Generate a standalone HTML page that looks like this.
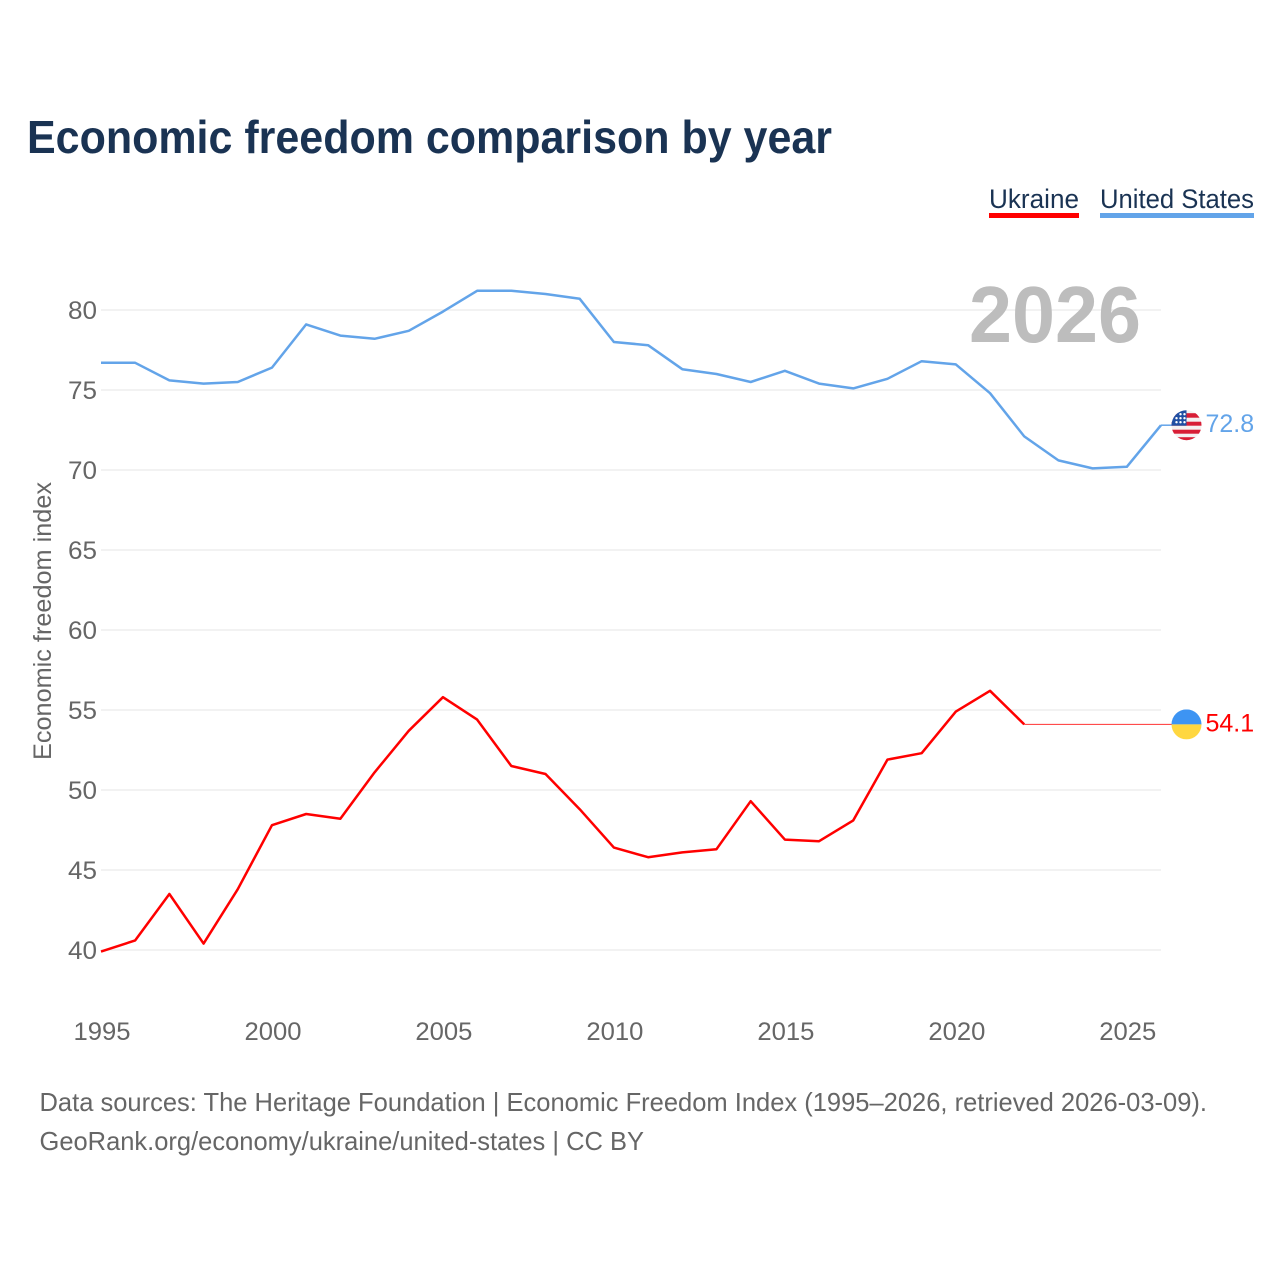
<!DOCTYPE html>
<html lang="en">
<head>
<meta charset="utf-8">
<title>Economic freedom comparison by year</title>
<style>
html,body{margin:0;padding:0;background:#fff}
svg{display:block}
text{font-family:"Liberation Sans",sans-serif}
.tick{font-size:25px;fill:#666}
</style>
</head>
<body>
<svg id="chart" width="1280" height="1280" viewBox="0 0 1280 1280" xmlns="http://www.w3.org/2000/svg">
  <defs>
    <clipPath id="us-clip"><circle cx="0" cy="0" r="15"></circle></clipPath>
    <clipPath id="ua-clip"><circle cx="0" cy="0" r="15"></circle></clipPath>
  </defs>
  <rect width="1280" height="1280" fill="#fff"></rect>
  <text x="27" y="153" font-size="46" font-weight="700" fill="#1a3353" textLength="805" lengthAdjust="spacingAndGlyphs">Economic freedom comparison by year</text>

  <g>
    <text x="989" y="208" font-size="27" fill="#1a3353" textLength="90" lengthAdjust="spacingAndGlyphs">Ukraine</text>
    <rect x="989" y="213" width="90" height="5" fill="#ff0000"></rect>
  </g>
  <g>
    <text x="1100" y="208" font-size="27" fill="#1a3353" textLength="154" lengthAdjust="spacingAndGlyphs">United States</text>
    <rect x="1100" y="213" width="154" height="5" fill="#63a4e9"></rect>
  </g>

  <g id="grid"></g>
  <text x="969" y="342" font-size="80" font-weight="700" fill="#bdbdbd" textLength="172" lengthAdjust="spacingAndGlyphs">2026</text>
  <g id="y-ticks"></g>
  <g id="x-ticks"></g>
  <text transform="translate(51,621) rotate(-90)" text-anchor="middle" font-size="25" fill="#666" textLength="278" lengthAdjust="spacingAndGlyphs">Economic freedom index</text>
  <g id="series"></g>

  <g id="us-end">
    <g clip-path="url(#us-clip)">
      <rect x="-15" y="-15" width="30" height="15" fill="#f4f1f1"></rect>
      <rect x="-15" y="0" width="30" height="15" fill="#f4f1f1"></rect>
      <rect x="-15" y="-12" width="30" height="4.5" fill="#d81e36"></rect>
      <rect x="-15" y="-3.5" width="30" height="4" fill="#d81e36"></rect>
      <rect x="-15" y="4.5" width="30" height="4" fill="#d81e36"></rect>
      <rect x="-15" y="12" width="30" height="4" fill="#d81e36"></rect>
      <rect x="-15" y="-16" width="15" height="16.5" fill="#1f4fa3"></rect>
      <circle cx="-2" cy="-11" r="1.2" fill="#fff"></circle>
      <circle cx="-6" cy="-11" r="1.2" fill="#fff"></circle>
      <circle cx="-2" cy="-7" r="1.2" fill="#fff"></circle>
      <circle cx="-6" cy="-7" r="1.2" fill="#fff"></circle>
      <circle cx="-10" cy="-7" r="1.2" fill="#fff"></circle>
      <circle cx="-2" cy="-3" r="1.2" fill="#fff"></circle>
      <circle cx="-6" cy="-3" r="1.2" fill="#fff"></circle>
      <circle cx="-10" cy="-3" r="1.2" fill="#fff"></circle>
    </g>
  </g>
  <g id="ua-end">
    <g clip-path="url(#ua-clip)">
      <rect x="-15" y="-15" width="30" height="15" fill="#3d94f3"></rect>
      <rect x="-15" y="0" width="30" height="15" fill="#ffd740"></rect>
    </g>
  </g>
  <text id="us-value" x="1205.5" font-size="25" fill="#63a4e9"></text>
  <text id="ua-value" x="1205.5" font-size="25" fill="#ff0000"></text>

  <text x="39.5" y="1111" font-size="26" fill="#666" textLength="1167.5" lengthAdjust="spacingAndGlyphs">Data sources: The Heritage Foundation | Economic Freedom Index (1995–2026, retrieved 2026-03-09).</text>
  <text x="39.5" y="1150" font-size="26" fill="#666" textLength="604.5" lengthAdjust="spacingAndGlyphs">GeoRank.org/economy/ukraine/united-states | CC BY</text>
</svg>
<script>
const years = [1995,1996,1997,1998,1999,2000,2001,2002,2003,2004,2005,2006,2007,2008,2009,2010,2011,2012,2013,2014,2015,2016,2017,2018,2019,2020,2021,2022,2023,2024,2025,2026];
const ukraineValues = [39.9,40.6,43.5,40.4,43.8,47.8,48.5,48.2,51.1,53.7,55.8,54.4,51.5,51.0,48.8,46.4,45.8,46.1,46.3,49.3,46.9,46.8,48.1,51.9,52.3,54.9,56.2,54.1];
const unitedStatesValues = [76.7,76.7,75.6,75.4,75.5,76.4,79.1,78.4,78.2,78.7,79.9,81.2,81.2,81.0,80.7,78.0,77.8,76.3,76.0,75.5,76.2,75.4,75.1,75.7,76.8,76.6,74.8,72.1,70.6,70.1,70.2,72.8];
const yTickValues = [40,45,50,55,60,65,70,75,80];
const xTickValues = [1995,2000,2005,2010,2015,2020,2025];

const NS = 'http://www.w3.org/2000/svg';
const xScale = function (yr) { return 101 + (yr - 1995) * (1161 - 101) / 31; };
const yScale = function (v) { return 950 - (v - 40) * 16; };

function make(tag, attrs, parent) {
  const el = document.createElementNS(NS, tag);
  Object.keys(attrs).forEach(function (k) { el.setAttribute(k, attrs[k]); });
  parent.appendChild(el);
  return el;
}
function toPoints(values) {
  return values.map(function (v, i) { return xScale(years[i]).toFixed(2) + ',' + yScale(v).toFixed(2); }).join(' ');
}

const grid = document.getElementById('grid');
const yTicks = document.getElementById('y-ticks');
const xTicks = document.getElementById('x-ticks');
const series = document.getElementById('series');

yTickValues.forEach(function (v) {
  const line = make('line', { x1: 101, x2: 1161, y1: yScale(v), y2: yScale(v), stroke: '#eeeeee', 'stroke-width': 1.5 }, grid);
  
  
  const label = make('text', { x: 97, y: yScale(v) + 9, 'text-anchor': 'end', 'class': 'tick', textLength: 29, lengthAdjust: 'spacingAndGlyphs' }, yTicks);
  
  
  label.textContent = v;
});

xTickValues.forEach(function (yr) {
  const label = make('text', { x: xScale(yr) + 1, y: 1040, 'text-anchor': 'middle', 'class': 'tick', textLength: 57, lengthAdjust: 'spacingAndGlyphs' }, xTicks);
  
  
  label.textContent = yr;
});

const usLast = unitedStatesValues[unitedStatesValues.length - 1];
const uaLast = ukraineValues[ukraineValues.length - 1];
const uaLastX = xScale(years[ukraineValues.length - 1]);
const usLastX = xScale(years[unitedStatesValues.length - 1]);

const uaConnector = make('line', { x1: uaLastX, x2: 1172, y1: yScale(uaLast), y2: yScale(uaLast), stroke: '#ff0000', 'stroke-width': 1, 'stroke-opacity': 0.8 }, series);



const usConnector = make('line', { x1: usLastX, x2: 1172, y1: yScale(usLast), y2: yScale(usLast), stroke: '#63a4e9', 'stroke-width': 1.5 }, series);



const usLine = make('polyline', { points: toPoints(unitedStatesValues), fill: 'none', stroke: '#63a4e9', 'stroke-width': 2.5, 'stroke-linejoin': 'round' }, series);



const uaLine = make('polyline', { points: toPoints(ukraineValues), fill: 'none', stroke: '#ff0000', 'stroke-width': 2.5, 'stroke-linejoin': 'round' }, series);



document.getElementById('us-end').setAttribute('transform', 'translate(1186.5,' + yScale(usLast) + ')');
document.getElementById('ua-end').setAttribute('transform', 'translate(1186.5,' + yScale(uaLast) + ')');

const usValue = document.getElementById('us-value');
usValue.setAttribute('y', yScale(usLast) + 7);
usValue.textContent = usLast.toFixed(1);
const uaValue = document.getElementById('ua-value');
uaValue.setAttribute('y', yScale(uaLast) + 7);
uaValue.textContent = uaLast.toFixed(1);
</script>
</body>
</html>
